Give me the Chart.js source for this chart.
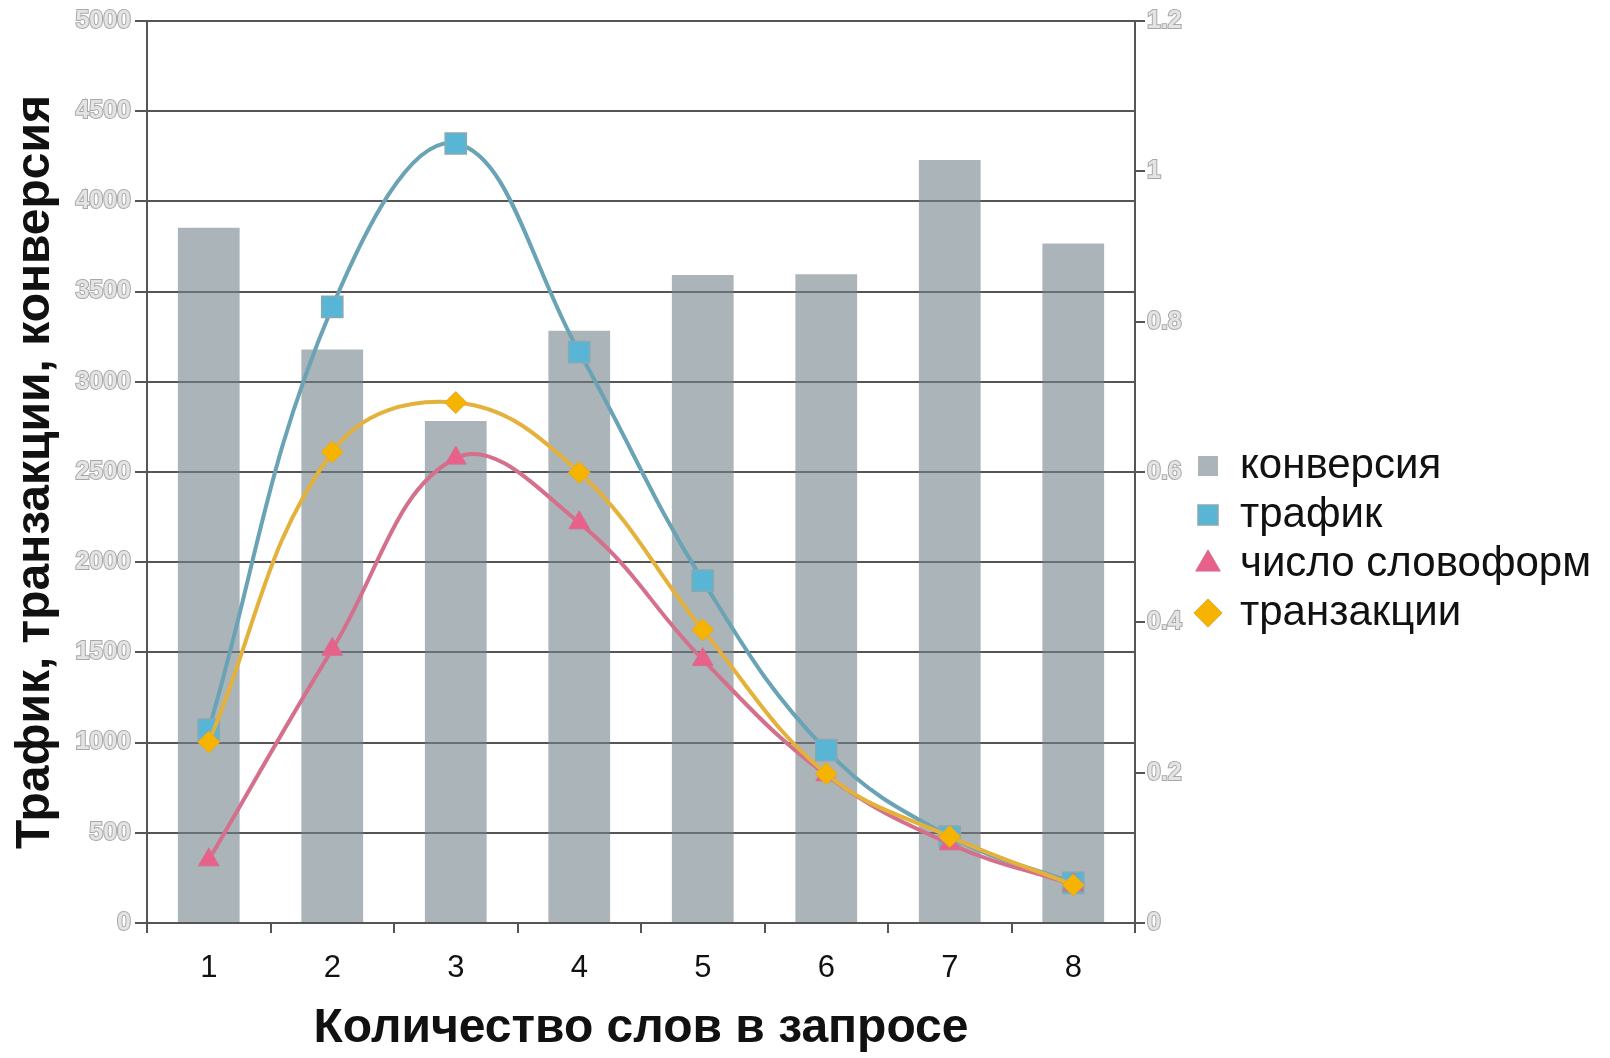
<!DOCTYPE html>
<html lang="ru">
<head>
<meta charset="UTF-8">
<title>Трафик, транзакции, конверсия</title>
<script src="https://cdn.jsdelivr.net/npm/chart.js@4.4.1/dist/chart.umd.min.js"></script>
<style>
    body { margin: 0; background: #fff; }
    #wrap { width: 1610px; height: 1058px; }
</style>
</head>
<body>
<div id="wrap"><canvas id="chart"></canvas></div>
<script>
    // values
    const categories = ['1', '2', '3', '4', '5', '6', '7', '8'];
    const conversion = [0.925, 0.763, 0.668, 0.788, 0.862, 0.863, 1.015, 0.904];
    const traffic = [1072, 3415, 4321, 3164, 1898, 958, 479, 222];
    const wordforms = [350, 1517, 2577, 2218, 1460, 821, 439, 211];
    const transactions = [1003, 2611, 2885, 2497, 1625, 827, 479, 211];

    const LEGEND_W = 420;

    const tickFont = { family: 'Liberation Sans, Arial, sans-serif', size: 25, weight: 'bold' };
    const titleFont = { family: 'Liberation Sans, Arial, sans-serif', size: 48, weight: 'bold' };

    // the built-in legend is capped at a share of the width, so widen it after it fits
    const wideLegend = {
        id: 'wideLegend',
        beforeLayout(chart) {
            const lg = chart.legend;
            if (lg && !lg._wide) {
                const fit = lg.fit;
                lg.fit = function () { fit.call(this); this.width = LEGEND_W; };
                lg._wide = true;
            }
        }
    };

    new Chart(document.getElementById('chart'), {
        data: {
            labels: categories,
            datasets: [{
                type: 'bar',
                label: 'конверсия',
                data: conversion,
                yAxisID: 'y1',
                backgroundColor: 'rgba(113,130,138,0.6)',
                barPercentage: 0.5,
                categoryPercentage: 1,
                pointStyle: 'rect',
                order: 4
            }, {
                type: 'line',
                label: 'трафик',
                data: traffic,
                yAxisID: 'y',
                borderColor: '#6aa3b5',
                borderWidth: 4,
                tension: 0.4,
                pointStyle: 'rect',
                pointRadius: 15,
                pointBackgroundColor: '#58b5d6',
                pointBorderColor: '#88a9b0',
                pointBorderWidth: 1.5,
                order: 3
            }, {
                type: 'line',
                label: 'число словоформ',
                data: wordforms,
                yAxisID: 'y',
                borderColor: '#d4708c',
                borderWidth: 4,
                tension: 0.4,
                pointStyle: 'triangle',
                pointRadius: 12,
                pointBackgroundColor: '#e8618a',
                pointBorderColor: '#d4708c',
                pointBorderWidth: 1,
                order: 2
            }, {
                type: 'line',
                label: 'транзакции',
                data: transactions,
                yAxisID: 'y',
                borderColor: '#e3b13c',
                borderWidth: 4,
                tension: 0.4,
                pointStyle: 'rectRot',
                pointRadius: 11,
                pointBackgroundColor: '#f6b400',
                pointBorderColor: '#e0a830',
                pointBorderWidth: 1,
                order: 1
            }]
        },
        options: {
            responsive: true,
            maintainAspectRatio: false,
            animation: false,
            layout: { padding: { top: 21, left: 0, right: 0, bottom: 0 } },
            plugins: {
                tooltip: { enabled: false },
                legend: {
                    position: 'right',
                    labels: {
                        usePointStyle: true,
                        boxWidth: 22,
                        boxHeight: 20,
                        color: '#111',
                        padding: 7,
                        sort: (a, b) => a.datasetIndex - b.datasetIndex,
                        font: { family: 'Liberation Sans, Arial, sans-serif', size: 42 }
                    }
                }
            },
            scales: {
                x: {
                    offset: true,
                    grid: { offset: true, drawOnChartArea: false, color: '#555', lineWidth: 2, tickLength: 10 },
                    border: { color: '#555', width: 2 },
                    ticks: { color: '#111', padding: 17, font: { family: 'Liberation Sans, Arial, sans-serif', size: 31 } },
                    title: { display: true, text: 'Количество слов в запросе', color: '#111', font: titleFont, padding: { top: 0, bottom: 0 } },
                    afterFit: s => { s.height = 135; }
                },
                y: {
                    position: 'left',
                    min: 0,
                    max: 5000,
                    ticks: {
                        stepSize: 500, color: '#e4e4e4', textStrokeColor: '#a8a8a8', textStrokeWidth: 2, padding: 4, font: tickFont,
                        callback: v => String(v)
                    },
                    grid: { color: '#555', lineWidth: 2, tickLength: 12 },
                    border: { color: '#555', width: 2 },
                    title: { display: true, text: 'Трафик, транзакции, конверсия', color: '#111', font: titleFont, padding: { top: 7, bottom: 0 } },
                    afterFit: s => { s.width = 147; }
                },
                y1: {
                    position: 'right',
                    min: 0,
                    max: 1.2,
                    ticks: {
                        stepSize: 0.2, color: '#e4e4e4', textStrokeColor: '#a8a8a8', textStrokeWidth: 2, padding: 2, font: tickFont,
                        callback: v => String(+v.toFixed(1))
                    },
                    grid: { drawOnChartArea: false, color: '#555', lineWidth: 2, tickLength: 10 },
                    border: { color: '#555', width: 2 },
                    afterFit: s => { s.width = 55; }
                }
            }
        },
        plugins: [wideLegend]
    });
</script>
</body>
</html>
